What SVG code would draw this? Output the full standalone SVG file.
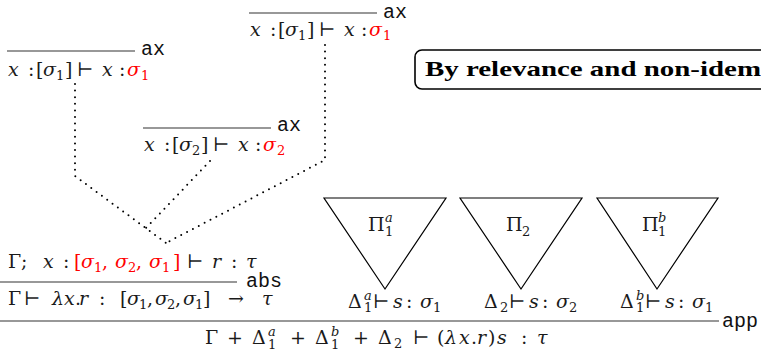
<svg xmlns="http://www.w3.org/2000/svg" width="761" height="353" viewBox="0 0 761 353">
<style>
.m{font-family:"DejaVu Serif","Liberation Serif",serif;font-size:19px;fill:#1a1a1a}
.i{font-style:italic}
.sb{font-size:13px}
.red{fill:#ff0000}
.tt{font-family:"Liberation Mono","DejaVu Sans Mono",monospace;font-size:20px;fill:#111}
.rule{stroke:#333;stroke-width:1.2}
.dot{stroke:#000;stroke-width:2;stroke-dasharray:0 6.6;stroke-linecap:round;fill:none}
.tri{fill:none;stroke:#000;stroke-width:1.2;stroke-linejoin:miter}
.box{fill:none;stroke:#000;stroke-width:1.6}
.bold{font-family:"Liberation Serif","DejaVu Serif",serif;font-weight:bold;font-size:21px;fill:#000}
</style>
<rect width="761" height="353" fill="#fff"/>

<g id="connectors">
<polyline class="dot" points="75,84 75,176 166,243"/>
<polyline class="dot" points="325,45 325,160 166,243"/>
<polyline class="dot" points="210,161 146,228"/>
</g>

<g id="ax-left">
<line class="rule" x1="7" y1="51" x2="135" y2="51"/>
<text class="tt" x="141" y="55">ax</text>
<text class="m" y="76"><tspan class="i" x="8">x</tspan><tspan x="28">:</tspan><tspan x="36">[</tspan><tspan class="i" x="43">σ</tspan><tspan class="sb" x="56" y="80">1</tspan><tspan x="65" y="76">]</tspan><tspan x="77">⊢</tspan><tspan class="i" x="102">x</tspan><tspan x="119">:</tspan><tspan class="i red" x="127">σ</tspan><tspan class="sb red" x="141" y="80">1</tspan></text>
</g>

<g id="ax-top">
<line class="rule" x1="249" y1="13" x2="377" y2="13"/>
<text class="tt" x="383" y="18">ax</text>
<text class="m" y="36"><tspan class="i" x="250">x</tspan><tspan x="270">:</tspan><tspan x="278">[</tspan><tspan class="i" x="285">σ</tspan><tspan class="sb" x="298" y="40">1</tspan><tspan x="307" y="36">]</tspan><tspan x="319">⊢</tspan><tspan class="i" x="344">x</tspan><tspan x="361">:</tspan><tspan class="i red" x="369">σ</tspan><tspan class="sb red" x="383" y="40">1</tspan></text>
</g>

<g id="ax-mid">
<line class="rule" x1="143" y1="128" x2="271" y2="128"/>
<text class="tt" x="277" y="131">ax</text>
<text class="m" y="151"><tspan class="i" x="144">x</tspan><tspan x="164">:</tspan><tspan x="172">[</tspan><tspan class="i" x="179">σ</tspan><tspan class="sb" x="192" y="155">2</tspan><tspan x="201" y="151">]</tspan><tspan x="213">⊢</tspan><tspan class="i" x="238">x</tspan><tspan x="255">:</tspan><tspan class="i red" x="263">σ</tspan><tspan class="sb red" x="277" y="155">2</tspan></text>
</g>

<g id="box">
<rect class="box" x="415" y="50" width="400" height="39" rx="7"/>
<text class="bold" x="425" y="76" textLength="336" lengthAdjust="spacingAndGlyphs">By relevance and non-idem</text>
</g>

<g id="abs">
<text class="m" y="268"><tspan x="8">Γ</tspan><tspan x="21">;</tspan><tspan class="i" x="43">x</tspan><tspan x="63">:</tspan><tspan class="red" x="74">[</tspan><tspan class="i red" x="81">σ</tspan><tspan class="sb red" x="94" y="272">1</tspan><tspan class="red" x="102" y="268">,</tspan><tspan class="i red" x="115">σ</tspan><tspan class="sb red" x="128" y="272">2</tspan><tspan class="red" x="136" y="268">,</tspan><tspan class="i red" x="149">σ</tspan><tspan class="sb red" x="162" y="272">1</tspan><tspan class="red" x="173" y="268">]</tspan><tspan x="187">⊢</tspan><tspan class="i" x="212">r</tspan><tspan x="231">:</tspan><tspan class="i" x="246">τ</tspan></text>
<line class="rule" x1="0" y1="282" x2="237" y2="282"/>
<text class="tt" x="246" y="287">abs</text>
<text class="m" y="305"><tspan x="8">Γ</tspan><tspan x="24">⊢</tspan><tspan class="i" x="52">λ</tspan><tspan class="i" x="64">x</tspan><tspan x="75">.</tspan><tspan class="i" x="79">r</tspan><tspan x="99">:</tspan><tspan x="120">[</tspan><tspan class="i" x="127">σ</tspan><tspan class="sb" x="139" y="309">1</tspan><tspan x="147" y="305">,</tspan><tspan class="i" x="155">σ</tspan><tspan class="sb" x="167" y="309">2</tspan><tspan x="175" y="305">,</tspan><tspan class="i" x="183">σ</tspan><tspan class="sb" x="195" y="309">1</tspan><tspan x="203" y="305">]</tspan><tspan x="228">→</tspan><tspan class="i" x="262">τ</tspan></text>
</g>

<g id="pi1a">
<polygon class="tri" points="324,198 446,198 385,289"/>
<text class="m"><tspan x="368" y="231">Π</tspan><tspan class="sb i" x="385" y="222">a</tspan><tspan class="sb" x="385" y="236">1</tspan></text>
<text class="m" y="308"><tspan x="348">Δ</tspan><tspan class="sb i" x="364" y="300">a</tspan><tspan class="sb" x="364" y="312">1</tspan><tspan x="373" y="308">⊢</tspan><tspan class="i" x="393">s</tspan><tspan x="406">:</tspan><tspan class="i" x="420">σ</tspan><tspan class="sb" x="433" y="312">1</tspan></text>
</g>

<g id="pi2">
<polygon class="tri" points="460,198 582,198 521,289"/>
<text class="m"><tspan x="506" y="231">Π</tspan><tspan class="sb" x="522" y="236">2</tspan></text>
<text class="m" y="308"><tspan x="484">Δ</tspan><tspan class="sb" x="500" y="312">2</tspan><tspan x="509" y="308">⊢</tspan><tspan class="i" x="529">s</tspan><tspan x="542">:</tspan><tspan class="i" x="556">σ</tspan><tspan class="sb" x="569" y="312">2</tspan></text>
</g>

<g id="pi1b">
<polygon class="tri" points="597,198 718,198 657,289"/>
<text class="m"><tspan x="642" y="231">Π</tspan><tspan class="sb i" x="658" y="222">b</tspan><tspan class="sb" x="658" y="236">1</tspan></text>
<text class="m" y="308"><tspan x="620">Δ</tspan><tspan class="sb i" x="636" y="300">b</tspan><tspan class="sb" x="636" y="312">1</tspan><tspan x="645" y="308">⊢</tspan><tspan class="i" x="665">s</tspan><tspan x="678">:</tspan><tspan class="i" x="692">σ</tspan><tspan class="sb" x="705" y="312">1</tspan></text>
</g>

<g id="app">
<line class="rule" x1="0" y1="321" x2="719" y2="321"/>
<text class="tt" x="722" y="327">app</text>
<text class="m" y="344"><tspan x="205">Γ</tspan><tspan x="227">+</tspan><tspan x="252">Δ</tspan><tspan class="sb i" x="268" y="336">a</tspan><tspan class="sb" x="268" y="349">1</tspan><tspan x="290" y="344">+</tspan><tspan x="315">Δ</tspan><tspan class="sb i" x="331" y="336">b</tspan><tspan class="sb" x="331" y="349">1</tspan><tspan x="353" y="344">+</tspan><tspan x="378">Δ</tspan><tspan class="sb" x="394" y="348">2</tspan><tspan x="413" y="344">⊢</tspan><tspan x="437">(</tspan><tspan class="i" x="445">λ</tspan><tspan class="i" x="459">x</tspan><tspan x="471">.</tspan><tspan class="i" x="477">r</tspan><tspan x="488">)</tspan><tspan class="i" x="497">s</tspan><tspan x="521">:</tspan><tspan class="i" x="537">τ</tspan></text>
</g>
</svg>
